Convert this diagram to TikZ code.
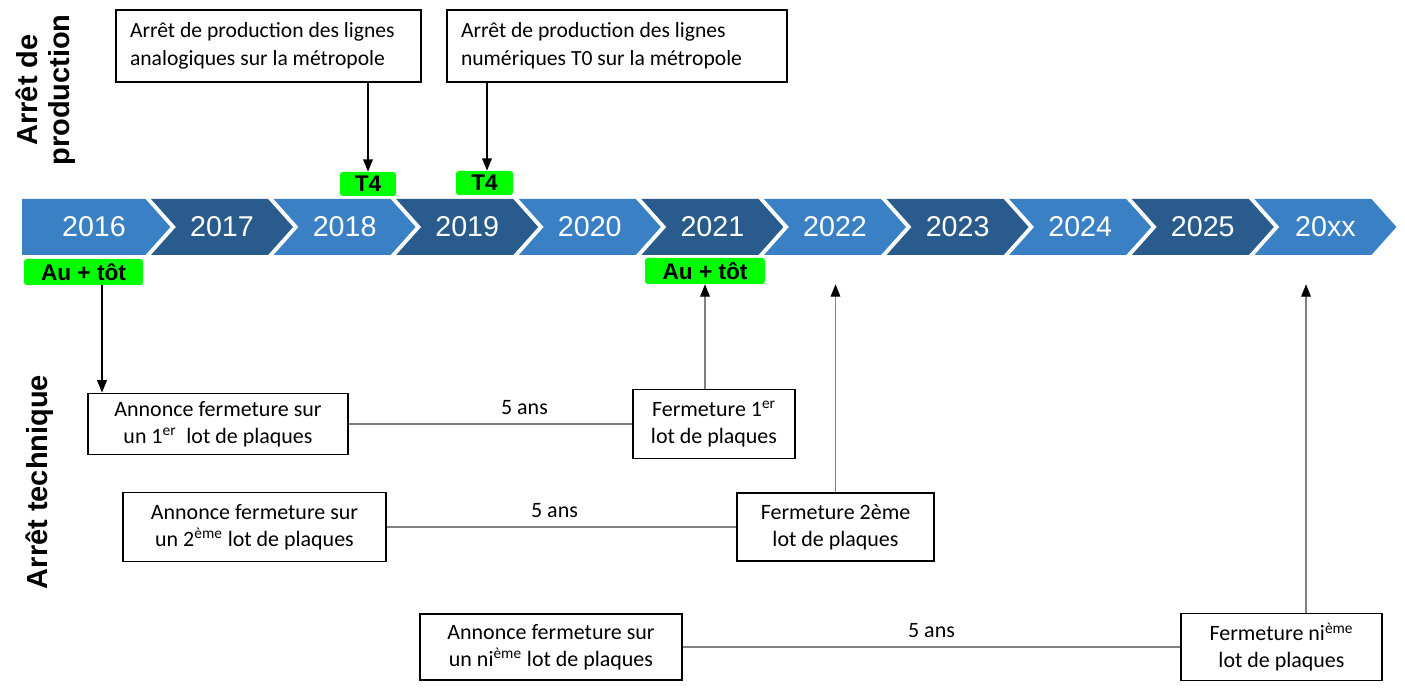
\documentclass[tikz,border=0pt]{standalone}
\usepackage{fontspec}
\setmainfont{Carlito}
\newfontfamily\arialf{Liberation Sans}
\usepackage{tikz}
\usetikzlibrary{arrows.meta}
\definecolor{yearlight}{RGB}{57,129,196}
\definecolor{yeardark}{RGB}{41,92,141}
\definecolor{flaggreen}{RGB}{0,255,0}
\begin{document}
\begin{tikzpicture}[x=0.02cm,y=-0.02cm,
box/.style={rectangle,draw=black,line width=1.1pt,fill=white,align=center,inner sep=0pt,font=\fontsize{12.5}{15.5}\selectfont},
topbox/.style={box,align=flush left,inner xsep=0.28cm,font=\fontsize{12.3}{15.8}\selectfont},
flag/.style={rectangle,fill=flaggreen,rounded corners=1.5pt,inner sep=0pt,font=\arialf\bfseries\fontsize{12.9}{14}\selectfont},
year/.style={text=white,font=\arialf\fontsize{16.3}{18}\selectfont},
side/.style={rotate=90,align=center,font=\arialf\bfseries\fontsize{16.5}{18.3}\selectfont},
down/.style={line width=0.8pt,-{Triangle[length=7pt,width=5.5pt]}},
up/.style={draw=black!50,line width=0.6pt,-{Triangle[length=7pt,width=5.5pt,color=black]}},
span/.style={draw=black!50,line width=0.6pt},
lapse/.style={above=1.5pt,font=\fontsize{12.5}{15}\selectfont}]
\path[use as bounding box,fill=white] (0,0) rectangle (1405,688);

\fill[yearlight] (22,199) -- (145.4,199) -- (170.4,227) -- (145.4,255) -- (22,255) -- cycle;
\node at (94,227)[year](y0){2016};
\foreach \i/\yr/\col in {1/2017/yeardark,2/2018/yearlight,3/2019/yeardark,4/2020/yearlight,5/2021/yeardark,6/2022/yearlight,7/2023/yeardark,8/2024/yearlight,9/2025/yeardark,10/20xx/yearlight}{
\pgfmathsetmacro\xa{28.4+122.6*\i}
\fill[\col] (\xa,199) -- ++(117,0) -- ++(25,28) -- ++(-25,28) -- ++(-117,0) -- ++(25,-28) -- cycle;
\node at (\xa+71,227)[year](y\i){\yr};
}

\node at (46,90)[side](prod){Arrêt de\\production};
\node at (40,482)[side](tech){Arrêt technique};

\node at (268.5,46)[topbox,minimum height=1.44cm,text width=5.54cm](pa){Arrêt de production des lignes\\analogiques sur la métropole};
\node at (617,46)[topbox,minimum height=1.44cm,text width=6.24cm](pb){Arrêt de production des lignes\\numériques T0 sur la métropole};

\node at (368,184)[flag,minimum width=1.12cm,minimum height=0.48cm](t1){T4};
\node at (484.5,183)[flag,minimum width=1.14cm,minimum height=0.48cm](t2){T4};
\node at (83.5,272)[flag,minimum width=2.38cm,minimum height=0.52cm](g1){Au + tôt};
\node at (705,271)[flag,minimum width=2.4cm,minimum height=0.52cm](g2){Au + tôt};

\node at (218,424)[box,minimum width=5.2cm,minimum height=1.22cm](a1){Annonce fermeture sur\\un 1\textsuperscript{er}\ \ lot de plaques};
\node at (714,424)[box,minimum width=3.24cm,minimum height=1.38cm](f1){Fermeture 1\textsuperscript{er}\\lot de plaques};
\node at (254.5,527)[box,minimum width=5.26cm,minimum height=1.38cm](a2){Annonce fermeture sur\\un 2\textsuperscript{ème} lot de plaques};
\node at (835.5,527)[box,minimum width=3.94cm,minimum height=1.36cm](f2){Fermeture 2ème\\lot de plaques};
\node at (551,647)[box,minimum width=5.24cm,minimum height=1.32cm](an){Annonce fermeture sur\\un ni\textsuperscript{ème} lot de plaques};
\node at (1281.5,647)[box,minimum width=4.02cm,minimum height=1.34cm](fn){Fermeture ni\textsuperscript{ème}\\lot de plaques};

\draw[down] (t1.north |- pa.south) -- (t1.north);
\draw[down] (pb.south) ++(-130,0) coordinate(pd) -- (pd |- t2.north);
\draw[down] (g1.south) ++(18.5,0) coordinate(gd) -- (gd |- a1.north);

\draw[up] (g2.south |- f1.north) -- (g2.south);
\draw[up] (f2.north) -- (f2.north |- g2.south);
\draw[up] (fn.north) ++(24.5,0) coordinate(fd) -- (fd |- g2.south);

\draw[span] (a1) -- node[pos=0.62,lapse]{5 ans} (f1);
\draw[span] (a2) -- node[pos=0.48,lapse]{5 ans} (f2);
\draw[span] (an) -- node[pos=0.5,lapse]{5 ans} (fn);
\end{tikzpicture}
\end{document}
